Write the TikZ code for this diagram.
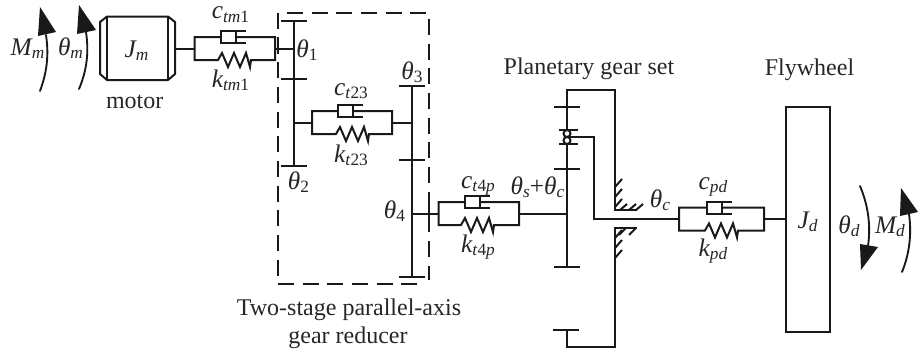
\documentclass[tikz,border=0pt]{standalone}
\usepackage{fontspec}
\setmainfont{Liberation Serif}
\newcommand\sbs[1]{\raisebox{-0.14em}{\fontsize{13}{13}\selectfont\upshape #1}}
\newcommand\sbi[1]{\raisebox{-0.14em}{\fontsize{13}{13}\selectfont\itshape #1}}
\newcommand\sbr[2]{\raisebox{-0.14em}{\fontsize{13}{13}\selectfont\textit{#1}\textup{#2}}}
\tikzset{
 lab/.style={font=\fontsize{18}{20}\selectfont,inner sep=0pt,text=black!85,anchor=base},
 sym/.style={font=\fontsize{19}{20}\selectfont\itshape,inner sep=0pt,text=black!85,anchor=base},
 ln/.style={line width=1.5pt,line join=miter,black!90},
 hatchln/.style={line width=1.5pt,black!90},
 head/.style={fill=black!90,draw=none},
 curve/.style={line width=1.4pt,black!90,line cap=round},
}
% xl xr ym xd xs
\newcommand\sdblock[5]{%
 \pgfmathsetmacro\yt{#3-11.5}\pgfmathsetmacro\yb{#3+11.5}%
 \pgfmathsetmacro\xa{#4+15}\pgfmathsetmacro\xc{#4+25}%
 \pgfmathsetmacro\ya{\yt-6}\pgfmathsetmacro\yc{\yt+6}%
 \draw[ln] (#4,\yt) -- (#1,\yt) -- (#1,\yb) -- (#5,\yb)
   -- ++(4,-7) -- ++(6,14) -- ++(6,-14) -- ++(6,14) -- ++(6,-14) -- ++(4,14) -- ++(1,-7)
   -- (#2,\yb) -- (#2,\yt) -- (\xa,\yt);
 \draw[ln] (\xc,\ya) -- (#4,\ya) -- (#4,\yc) -- (\xc,\yc);
 \draw[ln] (\xa,\ya) -- (\xa,\yc);
}
\begin{document}
\begin{tikzpicture}[x=0.75pt,y=-0.75pt]
\useasboundingbox (0,0) rectangle (922,354);
% torque arrows, left
\draw[curve] (40,91) .. controls (47,72) and (49,55) .. (46,35);
\fill[head] (38,36) -- (56,32) -- (40,7) -- cycle;
\draw[curve] (79,89) .. controls (87,70) and (89,52) .. (86,32);
\fill[head] (77,34) -- (96,30) -- (79,5) -- cycle;
\node[sym] (Mm) at (27.5,55) {M\sbi{m}};
\node[sym] (tm) at (70.5,55) {θ\sbi{m}};
% motor
\draw[ln] (107,16.5) -- (168,16.5) -- (175,22) -- (175,74) -- (168,80) -- (107,80) -- (100,74) -- (100,22) -- cycle;
\draw[ln] (107,16.5) -- (107,80) (168,16.5) -- (168,80);
\node[sym] (Jm) at (136.5,57) {J\sbi{m}};
\node[lab] (motor) at (134.7,108) {motor};
% motor coupling
\draw[ln] (175,48.5) -- (194.5,48.5);
\sdblock{194.5}{275}{48.5}{221}{218}
\draw[ln] (275,48.5) -- (294,48.5);
\draw[ln] (277.5,37) -- (277.5,54);
\node[sym] (cm) at (230.5,18.5) {c\sbr{tm}{1}};
\node[sym] (km) at (230.5,87) {k\sbr{tm}{1}};
% dashed box
\draw[line width=1.5pt,dash pattern=on 12pt off 6.5pt,black!90] (277.5,13) -- (277.5,284) -- (424,284);
\draw[line width=1.5pt,dash pattern=on 12pt off 6.5pt,black!90] (287,13) -- (429,13) -- (429,280);
% gear stage 1
\draw[ln] (294,21) -- (294,165.5);
\draw[ln] (281,21) -- (307,21) (281,79) -- (307,79) (281,165.5) -- (307,165.5);
\draw[ln] (294,122.5) -- (312,122.5);
\sdblock{312}{392}{122.5}{338}{336}
\draw[ln] (392,122.5) -- (412,122.5);
\draw[ln] (412,86) -- (412,277);
\draw[ln] (399,86) -- (425,86) (399,160) -- (425,160) (399,277) -- (425,277);
\node[sym] (t1) at (307,57) {θ\sbs{1}};
\node[sym] (t2) at (298.5,189) {θ\sbs{2}};
\node[sym] (t3) at (412,79) {θ\sbs{3}};
\node[sym] (t4) at (394.5,218) {θ\sbs{4}};
\node[sym] (c23) at (351,95) {c\sbr{t}{23}};
\node[sym] (k23) at (351,162) {k\sbr{t}{23}};
% stage 2 coupling
\draw[ln] (412,213.5) -- (438.5,213.5);
\draw[ln] (429,208) -- (429,219);
\sdblock{438.5}{519}{213.5}{465}{461}
\draw[ln] (519,213.5) -- (567,213.5);
\node[sym] (c4) at (478,188) {c\sbr{t}{4}\sbi{p}};
\node[sym] (k4) at (478,252) {k\sbr{t}{4}\sbi{p}};
\node[sym] (tsc) at (537.5,194) {θ\sbi{s}\textup{+}θ\sbi{c}};
% planetary
\draw[ln] (567,107) -- (567,267);
\draw[ln] (554,107) -- (580,107) (554,169) -- (580,169) (554,267) -- (580,267);
\draw[ln] (567,107) -- (567,90) -- (615,90) -- (615,210) -- (637,210);
\draw[ln] (553,330) -- (579,330) (567,330) -- (567,347) -- (615,347) -- (615,228) -- (637,228);
\draw[ln] (559,130) -- (578,130) (559,144) -- (578,144);
\draw[ln,fill=white] (567,133.5) circle (3.5) (567,140.5) circle (3.5);
\draw[ln] (570,137) -- (594,137) -- (594,219) -- (679,219);
\foreach \y in {187,197,207} \draw[hatchln] (615,\y) -- ++(7,-8);
\foreach \x in {620,629,636} \draw[hatchln] (\x,210) -- ++(7,-6);
\foreach \x in {626,636} \draw[hatchln] (\x,228) -- ++(-7,7);
\foreach \y in {238,248,258} \draw[hatchln] (615,\y) -- ++(7,-8);
\node[lab] (pg) at (589,74) {Planetary gear set};
\node[sym] (tc) at (660,207) {θ\sbi{c}};
% flywheel coupling
\sdblock{679}{764}{219}{706.5}{705}
\draw[ln] (764,219) -- (785.5,219);
\draw[ln] (785.5,106.5) rectangle (830,332);
\node[sym] (cpd) at (713,189) {c\sbi{pd}};
\node[sym] (kpd) at (713,256) {k\sbi{pd}};
\node[sym] (Jd) at (807.5,228) {J\sbi{d}};
\node[lab] (fw) at (809.5,75) {Flywheel};
\node[sym] (td) at (849,233) {θ\sbi{d}};
\node[sym] (Md) at (890,233) {M\sbi{d}};
% torque arrows, right
\draw[curve] (860,186) .. controls (868,205) and (871,225) .. (868,246);
\fill[head] (860,244) -- (878,247) -- (861,270) -- cycle;
\draw[curve] (902,272) .. controls (909,255) and (912,235) .. (909,214);
\fill[head] (900,216) -- (918,212) -- (901,188) -- cycle;
% reducer caption
\node[lab] (cap1) at (349,315) {Two-stage parallel-axis};
\node[lab] (cap2) at (348,343) {gear reducer};
\end{tikzpicture}
\end{document}
